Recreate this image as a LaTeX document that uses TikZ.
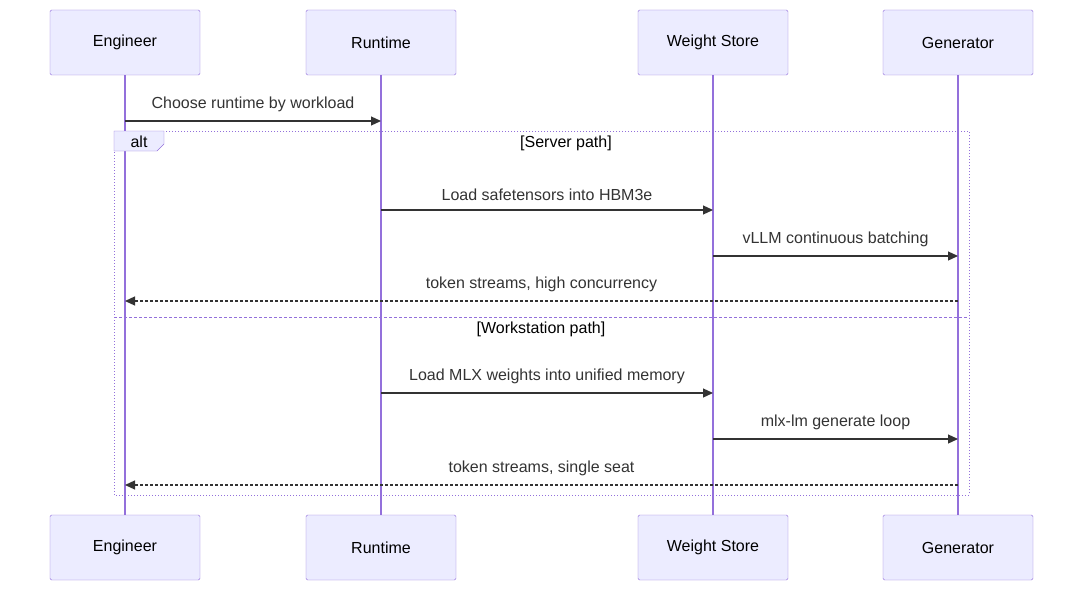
\documentclass[tikz,border=0pt]{standalone}
\usepackage{fontspec}
\setmainfont{Liberation Sans}
\usetikzlibrary{arrows.meta}
\definecolor{bord}{HTML}{9370DB}
\definecolor{fil}{HTML}{ECECFF}
\definecolor{ink}{HTML}{333333}
\tikzset{
 actor/.style={draw=bord,fill=fil,minimum width=150pt,minimum height=65pt,inner sep=0pt,font=\fontsize{16pt}{18pt}\selectfont,rounded corners=1.5pt},
 life/.style={draw=bord,line width=1.5pt},
 msg/.style={draw=ink,line width=1.2pt,-{Triangle[length=10pt,width=9pt]}},
 rep/.style={msg,dash pattern=on 3pt off 2pt},
 lab/.style={font=\fontsize{16pt}{18pt}\selectfont,text=ink,inner sep=0pt},
}
\begin{document}
\begin{tikzpicture}[x=1pt,y=-1pt]
\useasboundingbox (0,0) rectangle (1083,591);
\foreach \n/\x/\t in {e/125/Engineer,r/381/Runtime,w/713/Weight Store,g/958/Generator}{
  \draw[life] (\x,75) -- (\x,515);
  \node[actor] (\n t) at (\x,42.5) {\t};
  \node[actor] (\n b) at (\x,547.5) {\t};
}
\coordinate (e1) at (125,121); \coordinate (r1) at (381,121);
\draw[msg] (e1) -- node[lab,above=9pt]{Choose runtime by workload} (r1);
\draw[bord,line width=1pt,dotted] (114,131) rectangle (969,495);
\draw[bord,line width=1pt,dash pattern=on 3pt off 2pt] (114,317) -- (969,317);
\draw[bord,fill=fil] (114,131) -- (164,131) -- (164,144) -- (157,151) -- (114,151) -- cycle;
\node[lab,text=black] (alt) at (139,142) {alt};
\node[lab,text=black] (sp) at (566,143) {[Server path]};
\node[lab,text=black] (wp) at (541,329) {[Workstation path]};
\foreach \y/\a/\b/\s/\t in {210/381/713/msg/Load safetensors into HBM3e,256/713/958/msg/vLLM continuous batching,301/958/125/rep/{token streams, high concurrency},393/381/713/msg/Load MLX weights into unified memory,439/713/958/msg/mlx-lm generate loop,485/958/125/rep/{token streams, single seat}}{
  \coordinate (p) at (\a,\y); \coordinate (q) at (\b,\y);
  \draw[\s] (p) -- node[lab,above=9pt]{\t} (q);
}
\end{tikzpicture}
\end{document}
